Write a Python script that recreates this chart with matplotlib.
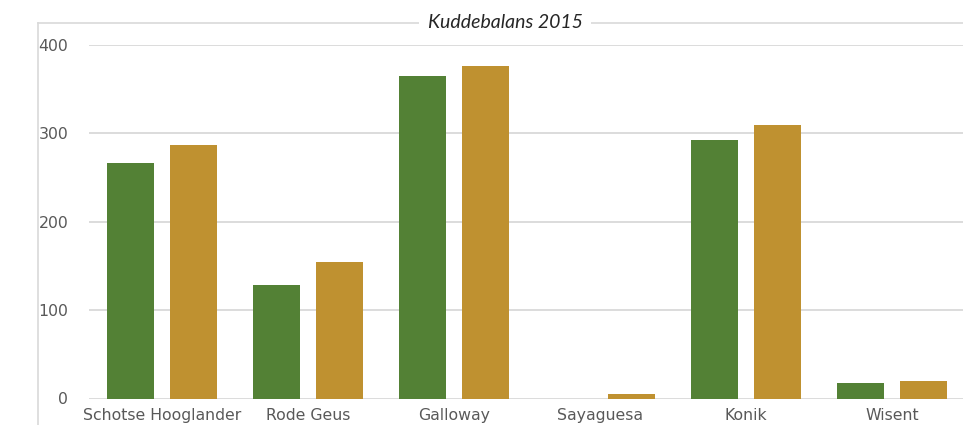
import matplotlib.pyplot as plt
import numpy as np
from matplotlib.lines import Line2D

categories = ['Schotse Hooglander', 'Rode Geus', 'Galloway', 'Sayaguesa', 'Konik', 'Wisent']
series_a = [266, 128, 365, 0, 293, 18]
series_b = [287, 154, 376, 5, 310, 20]
yticks = [0, 100, 200, 300, 400]

green = '#538135'
gold = '#BF9130'
grey_text = '#595959'
grid_col = '#d9d9d9'

fig = plt.figure(figsize=(9.63, 4.25), dpi=100)
ax = fig.add_axes([89 / 963, (425 - 398.5) / 425, 876 / 963, 353.5 / 425])

x = np.arange(len(categories))
w = 0.32
off = 0.216
ax.bar(x - off, series_a, width=w, color=green, zorder=3)
ax.bar(x + off, series_b, width=w, color=gold, zorder=3)

ax.set_xlim(-0.5, len(categories) - 0.5)
ax.set_ylim(0, 400)
ax.set_yticks(yticks)
ax.set_xticks(x)
ax.set_xticklabels(categories)
ax.grid(axis='y', color=grid_col, linewidth=1.3, zorder=0)
for s in ax.spines.values():
    s.set_visible(False)
ax.tick_params(axis='both', length=0, labelsize=11.3, colors=grey_text)
ax.tick_params(axis='x', pad=7)
ax.tick_params(axis='y', pad=15)

# chart-area border (left and top edges visible in the crop)
fig.add_artist(Line2D([38 / 963, 38 / 963], [0, 1 - 23 / 425], color=grid_col, lw=1.2))
fig.add_artist(Line2D([38 / 963, 1], [1 - 23 / 425, 1 - 23 / 425], color=grid_col, lw=1.2))

fig.text(505 / 963, 1 - 22 / 425, 'Kuddebalans 2015', ha='center', va='center',
         fontsize=14, style='italic', family='Lato', color='#262626',
         bbox=dict(facecolor='white', edgecolor='none', pad=6))

fig.savefig('out.png', dpi=100)
